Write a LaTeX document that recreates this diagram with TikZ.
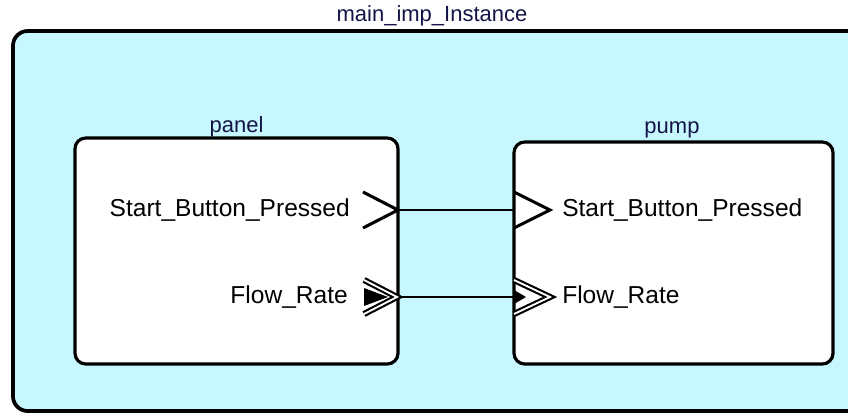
\documentclass[tikz,border=0pt]{standalone}
\usepackage{fontspec}
\setmainfont{Liberation Sans}
\definecolor{bgcyan}{RGB}{200,248,255}
\definecolor{titleblue}{RGB}{20,20,70}
\begin{document}
\begin{tikzpicture}[x=0.75pt,y=-0.75pt,
  box/.style={draw=black,line width=2.4pt,rounded corners=8pt,fill=white},
  title/.style={text=titleblue,font=\fontsize{16.5}{18}\selectfont,inner sep=0pt},
  portlabel/.style={text=black,font=\fontsize{18.4}{20}\selectfont,inner sep=0pt},
  chev/.style={draw=black,line width=2.3pt,line join=miter},
  dchev/.style={draw=black,double=white,double distance=1.4pt,line width=1.6pt,line join=miter},
  wire/.style={draw=black,line width=1.1pt}]
\useasboundingbox (0,0) rectangle (848,414);
\begin{scope}
\clip (0,0) rectangle (848,414);
% outer instance box
\draw[draw=black,line width=2.8pt,fill=bgcyan,rounded corners=11pt] (13,31) rectangle (880,411);
\end{scope}
\node[title] (maintitle) at (432,16) {main\_imp\_Instance};
% component boxes
\node[box,minimum width=242.25pt,minimum height=169.5pt] (panel) at (236.5,251) {};
\node[box,minimum width=239.25pt,minimum height=166.5pt] (pump) at (673.5,253) {};
\node[title] (paneltitle) at (236.5,127) {panel};
\node[title] (pumptitle) at (672,130) {pump};
% port anchors
\coordinate (pa) at (398,210);
\coordinate (pb) at (398,297);
\coordinate (qa) at (514,210);
\coordinate (qb) at (514,297);
% connectors
\draw[wire] (pa) -- (qa);
\draw[wire] (pb) -- (qb);
% panel ports
\draw[chev] ([shift={(-35,-18)}]pa) -- (pa) -- ([shift={(-35,18)}]pa);
\fill[black] ([shift={(-34,-9)}]pb) -- ([shift={(-10,0)}]pb) -- ([shift={(-34,9)}]pb) -- cycle;
\draw[dchev] ([shift={(-34,-17)}]pb) -- ([shift={(-1,0)}]pb) -- ([shift={(-34,17)}]pb);
% pump ports
\draw[chev] ([shift={(0,-18)}]qa) -- ([shift={(36,0)}]qa) -- ([shift={(0,18)}]qa);
\fill[black] ([shift={(0,-7)}]qb) -- ([shift={(12,0)}]qb) -- ([shift={(0,7)}]qb) -- cycle;
\draw[dchev] ([shift={(0,-17)}]qb) -- ([shift={(36,0)}]qb) -- ([shift={(0,17)}]qb);
% port labels
\node[portlabel,anchor=east] (l1) at (350,210) {Start\_Button\_Pressed};
\node[portlabel,anchor=east] (l2) at (348,297) {Flow\_Rate};
\node[portlabel,anchor=west] (l3) at (562,210) {Start\_Button\_Pressed};
\node[portlabel,anchor=west] (l4) at (562,297) {Flow\_Rate};
\end{tikzpicture}
\end{document}
